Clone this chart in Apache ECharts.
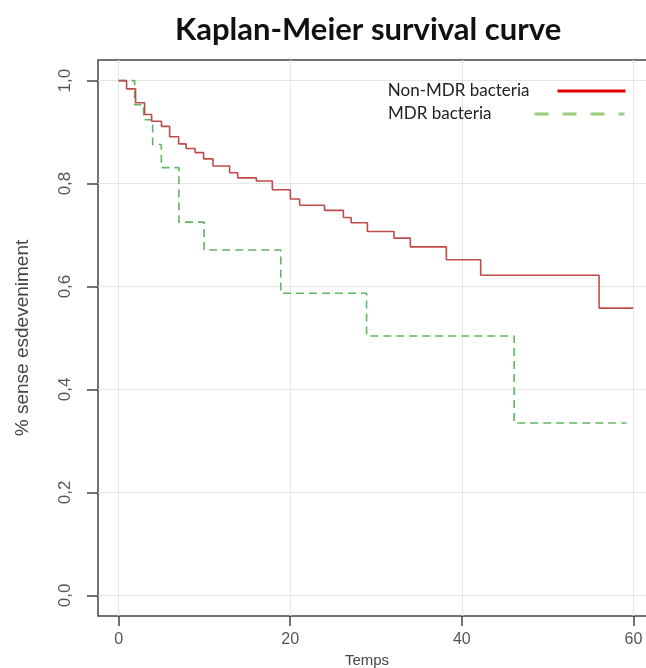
<!DOCTYPE html>
<html><head><meta charset="utf-8">
<script src="https://cdn.jsdelivr.net/npm/echarts@6/dist/echarts.min.js"></script>
<style>html,body{margin:0;padding:0;background:#fff}#c{width:646px;height:668px}</style>
</head><body><div id="c"></div>
<script>
// Non-MDR bacteria (Kaplan-Meier steps: time, survival after the event)
const nonMdrTimes = [0, 0.93, 1.98, 3.03, 3.85, 5.0, 5.95, 7.0, 7.87, 8.92, 9.91, 11.0, 12.94, 13.88, 16.06, 17.92, 20.02, 21.1, 24.0, 26.2, 27.1, 29.0, 32.1, 34.0, 38.2, 42.2, 56.0, 60];
const nonMdrSurv  = [1.0, 0.984, 0.957, 0.934, 0.921, 0.911, 0.891, 0.877, 0.868, 0.860, 0.848, 0.834, 0.821, 0.811, 0.805, 0.788, 0.770, 0.758, 0.748, 0.734, 0.724, 0.707, 0.694, 0.677, 0.652, 0.622, 0.558, 0.558];
// MDR bacteria
const mdrTimes = [0, 1.87, 2.92, 3.97, 4.98, 7.03, 9.97, 18.9, 28.9, 46.1, 59.2];
const mdrSurv  = [1.0, 0.953, 0.924, 0.876, 0.831, 0.725, 0.671, 0.587, 0.504, 0.335, 0.335];

const seriesNames = ['Non-MDR bacteria', 'MDR bacteria'];
const xTicks = [0, 20, 40, 60];
const xTickLabels = ['0', '20', '40', '60'];
const yTicks = [0, 0.2, 0.4, 0.6, 0.8, 1.0];
const yTickLabels = ['0,0', '0,2', '0,4', '0,6', '0,8', '1,0'];

const pick = (ticks, labels) => v => {
  const i = ticks.findIndex(t => Math.abs(t - v) < 1e-6);
  return i >= 0 ? labels[i] : '';
};

const chart = echarts.init(document.getElementById('c'), null, {renderer: 'canvas'});
chart.setOption({
  animation: false,
  backgroundColor: '#fff',
  title: {
    text: 'Kaplan-Meier survival curve',
    left: 170, top: 9,
    textStyle: {fontFamily: 'Lato', fontWeight: 'bold', fontSize: 31, color: '#111'}
  },
  legend: [{
    data: [{name: seriesNames[0], lineStyle: {color: '#e00000', width: 3}, itemStyle: {opacity: 0}}],
    right: 14, top: 76, align: 'right',
    itemWidth: 68, itemHeight: 6,
    textStyle: {fontFamily: 'Lato', fontSize: 17, color: '#222', lineHeight: 20, padding: [0, 23, 0, 0]}
  }, {
    data: [{name: seriesNames[1], lineStyle: {color: '#9ccc80', width: 3, type: [14, 14]}, itemStyle: {opacity: 0}}],
    right: 15, top: 99, align: 'right',
    itemWidth: 90, itemHeight: 6,
    textStyle: {fontFamily: 'Lato', fontSize: 17, color: '#222', lineHeight: 20, padding: [0, 38, 0, 0]}
  }],
  grid: {left: 98, top: 60, width: 556, bottom: 52, show: true, borderColor: '#444', borderWidth: 1.5,
         containLabel: false, outerBoundsMode: 'none'},
  xAxis: {
    type: 'value', min: -2.4, max: 62.4,
    name: 'Temps', nameLocation: 'middle', nameGap: 35,
    nameTextStyle: {fontFamily: 'Liberation Sans', fontSize: 15, color: '#444', padding: [0, 18, 0, 0]},
    axisLine: {show: false, onZero: false},
    axisTick: {show: true, length: 10, customValues: xTicks, lineStyle: {color: '#444', width: 1.5}},
    axisLabel: {customValues: xTicks, formatter: pick(xTicks, xTickLabels), margin: 16, fontFamily: 'Liberation Sans', fontSize: 16, color: '#555'},
    splitLine: {show: true, lineStyle: {color: '#e6e6e6', width: 1}}
  },
  yAxis: {
    type: 'value', min: -0.04, max: 1.04,
    name: '% sense esdeveniment', nameLocation: 'middle', nameGap: 66,
    nameTextStyle: {fontFamily: 'Liberation Sans', fontSize: 19, color: '#444'},
    axisLine: {show: false, onZero: false},
    axisTick: {show: true, length: 11, customValues: yTicks, lineStyle: {color: '#444', width: 1.5}},
    axisLabel: {customValues: yTicks, formatter: pick(yTicks, yTickLabels), rotate: 90, margin: 24, fontFamily: 'Liberation Sans', fontSize: 17, color: '#555'},
    splitLine: {show: true, lineStyle: {color: '#e6e6e6', width: 1}}
  },
  series: [{
    name: seriesNames[0], type: 'line', step: 'end', symbol: 'none', showSymbol: false,
    lineStyle: {color: '#bf4b4b', width: 1.6},
    itemStyle: {color: '#bf4b4b'},
    data: nonMdrTimes.map((t, i) => [t, nonMdrSurv[i]]),
    z: 3
  }, {
    name: seriesNames[1], type: 'line', step: 'end', symbol: 'none', showSymbol: false,
    lineStyle: {color: '#62b562', width: 1.6, type: [8, 5]},
    itemStyle: {color: '#62b562'},
    data: mdrTimes.map((t, i) => [t, mdrSurv[i]]),
    z: 2
  }]
});
</script></body></html>
